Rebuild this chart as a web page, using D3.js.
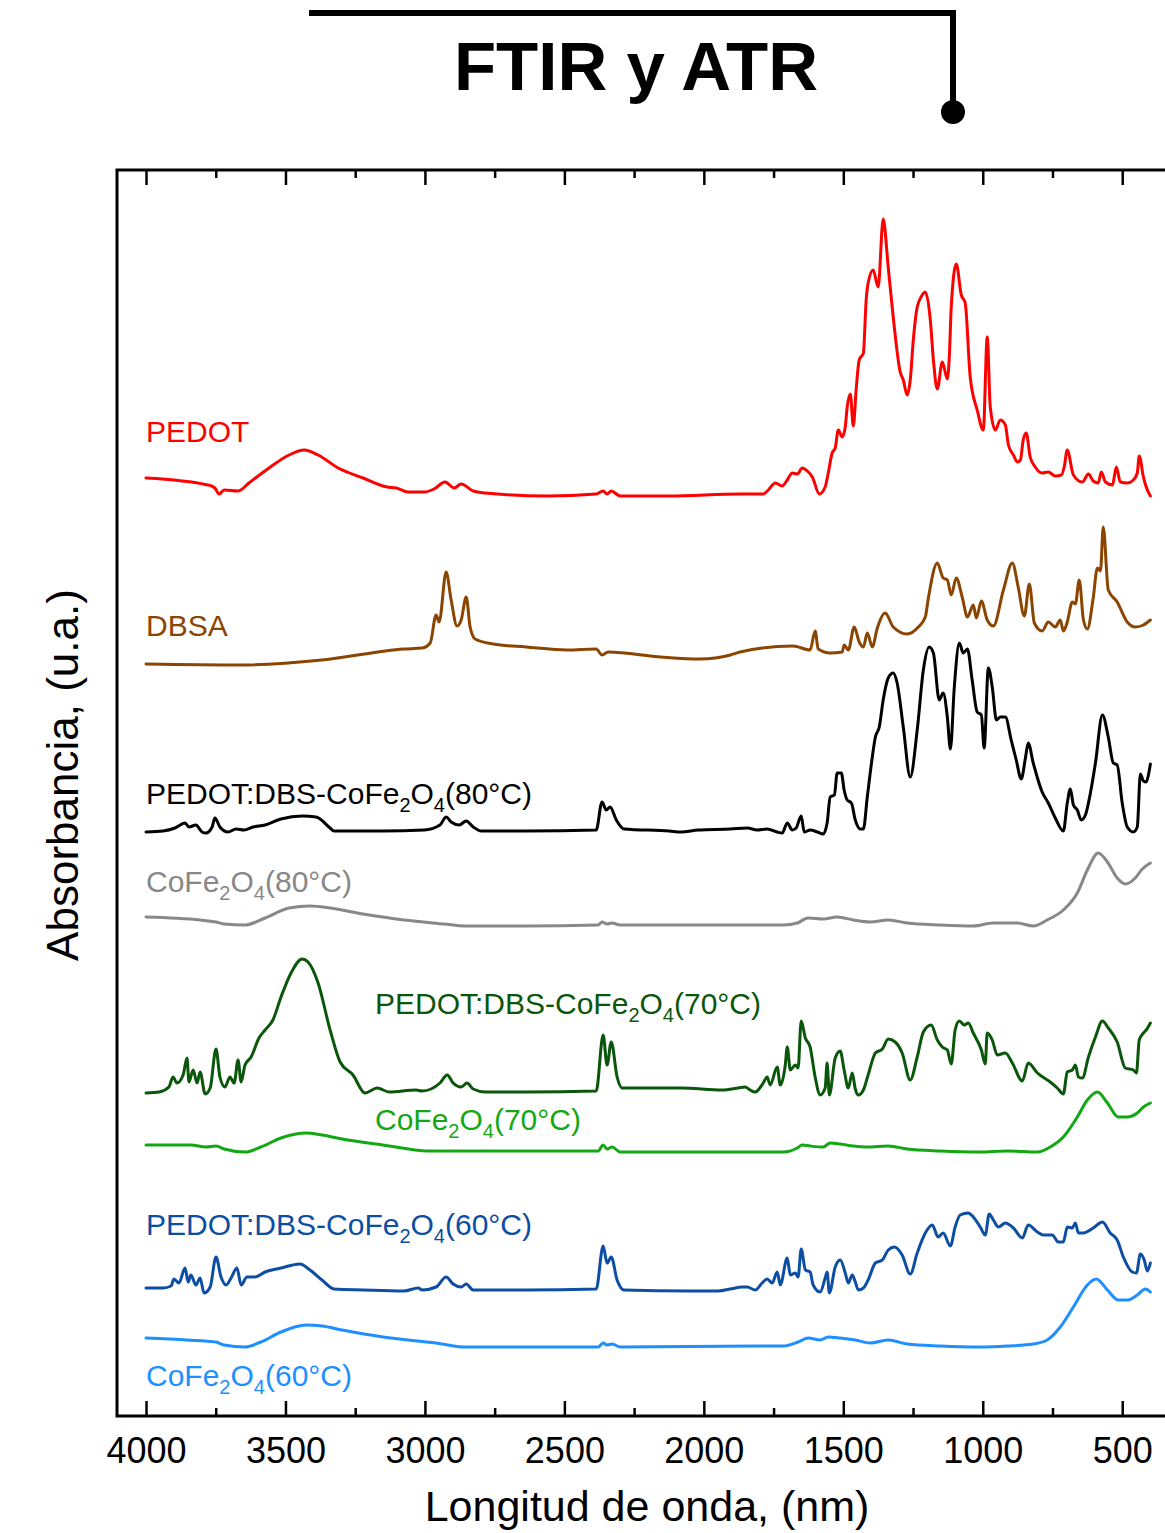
<!DOCTYPE html>
<meta charset="utf-8">
<head>
	<title>FTIR y ATR</title>
	<script type="text/javascript" src="https://d3js.org/d3.v7.min.js"></script>
	<style>
		body { margin: 0; background: #fff; }
		text { font-family: "Liberation Sans", Arial, sans-serif; }
		.tick line { stroke: #000; stroke-width: 2.5; }
		.tick text { font-size: 36px; fill: #000; }
		.spec { fill: none; stroke-width: 3; stroke-linejoin: round; stroke-linecap: round; }
	</style>
</head>
<body>
<div id="chart"></div>
<script>

// x axis ticks (cm-1, labelled nm in the original)
var majorTicks = [4000, 3500, 3000, 2500, 2000, 1500, 1000, 500];
var minorTicks = [3750, 3250, 2750, 2250, 1750, 1250, 750];

// spectra, [wavenumber, absorbance (u.a., offset)]
var pedot = [[4000,93.8],[3778,93.1],[3753,92.8],[3738,92.2],[3720,92.6],[3670,92.5],[3631,93.3],[3559,94.8],[3487,96.1],[3433,96.6],[3383,96.1],[3311,94.8],[3222,93.8],[3136,92.9],[3103,92.8],[3060,92.4],[3003,92.4],[2967,92.7],[2928,93.4],[2895,92.8],[2870,93.2],[2827,92.5],[2784,92.3],[2562,92.0],[2386,92.2],[2361,92.5],[2347,92.2],[2332,92.5],[2300,92.0],[2124,92.0],[1870,92.2],[1787,92.2],[1769,92.6],[1744,93.3],[1719,93.0],[1701,93.6],[1683,94.3],[1665,94.2],[1647,94.8],[1629,94.5],[1611,93.9],[1586,92.2],[1565,92.9],[1554,94.3],[1540,96.3],[1529,96.8],[1518,98.6],[1504,97.9],[1493,98.9],[1486,100.9],[1475,102.2],[1464,99.0],[1454,102.6],[1443,105.6],[1428,106.3],[1418,111.6],[1411,113.3],[1393,114.6],[1375,112.9],[1357,119.7],[1339,114.9],[1321,109.9],[1296,104.4],[1285,103.6],[1271,102.1],[1260,103.6],[1249,107.6],[1235,110.9],[1217,112.1],[1206,112.4],[1188,109.6],[1177,105.6],[1163,102.7],[1145,105.4],[1127,103.7],[1120,105.9],[1113,110.9],[1095,115.2],[1077,112.1],[1063,111.3],[1045,103.9],[1020,100.6],[998,98.6],[984,107.9],[973,100.9],[955,98.6],[937,99.6],[919,99.1],[908,97.1],[890,96.1],[876,95.4],[865,95.6],[855,97.6],[844,98.3],[830,95.9],[812,94.9],[787,94.3],[765,94.4],[740,94.0],[718,94.1],[708,94.9],[697,96.6],[675,94.1],[643,93.4],[621,94.2],[604,93.5],[586,93.3],[575,94.4],[560,93.4],[535,93.1],[521,94.9],[507,93.4],[482,93.3],[460,93.6],[446,94.3],[439,96.0],[424,93.9],[414,92.9],[399,92.0]];

var dbsa = [[4000,75.2],[3663,75.1],[3369,75.6],[3075,76.7],[3010,76.8],[2981,77.3],[2960,80.1],[2949,79.4],[2924,84.4],[2906,81.6],[2885,79.0],[2870,79.6],[2852,81.9],[2838,78.9],[2820,77.7],[2755,77.2],[2637,76.9],[2490,76.6],[2386,76.7],[2365,76.1],[2343,76.4],[2153,75.9],[2013,75.7],[1905,76.1],[1870,76.4],[1680,77.0],[1619,76.6],[1601,78.5],[1590,76.7],[1547,76.3],[1504,76.4],[1497,77.1],[1482,76.6],[1461,78.9],[1443,77.4],[1428,76.9],[1414,78.3],[1396,76.9],[1378,78.8],[1350,80.3],[1321,78.9],[1271,78.2],[1231,78.9],[1206,79.9],[1195,81.8],[1163,85.3],[1142,83.8],[1127,83.6],[1113,82.1],[1095,83.8],[1073,81.8],[1055,79.9],[1034,81.1],[1023,79.8],[1005,81.5],[984,79.6],[962,79.0],[926,82.6],[894,85.3],[873,82.9],[851,80.0],[833,83.2],[815,79.3],[787,78.5],[765,79.4],[740,78.9],[722,79.6],[711,78.5],[697,79.4],[679,81.4],[668,81.2],[654,83.6],[639,79.6],[625,78.7],[604,81.8],[589,84.8],[578,84.5],[568,88.9],[550,82.6],[518,81.4],[482,79.4],[453,78.9],[424,79.1],[399,79.6]];

var pds80 = [[4000,58.4],[3939,58.5],[3896,58.8],[3860,59.3],[3846,58.9],[3821,59.1],[3799,58.4],[3785,58.3],[3763,58.9],[3753,59.8],[3735,58.9],[3706,58.4],[3677,58.7],[3649,58.6],[3616,58.9],[3573,59.1],[3516,59.7],[3440,60.0],[3390,59.9],[3340,58.8],[3326,58.5],[3150,58.5],[3003,58.6],[2946,59.1],[2924,59.9],[2906,59.4],[2877,59.1],[2852,59.5],[2827,58.9],[2798,58.5],[2637,58.5],[2386,58.6],[2365,61.4],[2350,60.6],[2336,60.9],[2314,59.6],[2286,58.7],[2124,58.5],[2081,58.4],[2020,58.6],[1905,58.7],[1844,58.8],[1809,58.6],[1773,58.7],[1737,58.4],[1719,58.3],[1701,59.3],[1683,58.6],[1669,58.8],[1651,60.0],[1640,58.4],[1619,58.6],[1593,58.4],[1572,58.2],[1558,59.3],[1547,61.9],[1532,62.1],[1522,64.3],[1507,64.3],[1497,62.6],[1486,61.6],[1471,61.3],[1457,59.6],[1439,58.7],[1428,58.7],[1414,61.9],[1396,65.9],[1385,67.9],[1371,68.9],[1357,71.6],[1339,73.8],[1321,74.3],[1307,73.3],[1285,68.9],[1260,63.9],[1235,68.6],[1213,74.6],[1192,76.9],[1177,76.3],[1156,71.6],[1142,72.3],[1127,69.9],[1116,66.7],[1102,72.9],[1084,77.3],[1070,76.3],[1055,76.7],[1038,73.6],[1020,70.4],[1005,70.1],[995,66.8],[980,74.8],[966,72.9],[951,69.6],[937,69.9],[919,69.9],[898,67.6],[880,65.6],[862,63.7],[847,65.8],[837,67.3],[819,65.3],[787,62.4],[765,61.3],[740,59.8],[711,58.5],[697,61.3],[686,62.7],[675,61.1],[661,60.6],[647,59.6],[632,60.1],[614,62.3],[596,65.3],[571,70.1],[550,67.9],[532,65.3],[518,65.1],[500,61.3],[482,58.9],[460,58.4],[446,58.9],[435,64.2],[424,63.5],[414,63.4],[406,64.1],[399,65.2]];

var cofe80 = [[4000,49.9],[3806,49.6],[3749,49.4],[3720,49.2],[3645,49.1],[3573,49.8],[3487,50.8],[3412,51.0],[3340,50.8],[3222,50.2],[3075,49.6],[2931,49.2],[2856,49.0],[2637,49.0],[2379,49.1],[2365,49.4],[2347,49.2],[2329,49.3],[2300,49.1],[1805,49.1],[1715,49.1],[1665,49.3],[1626,49.8],[1572,49.7],[1522,49.9],[1464,49.6],[1403,49.4],[1339,49.6],[1271,49.3],[1152,49.1],[1034,49.0],[962,49.3],[876,49.3],[819,49.0],[769,49.6],[711,50.6],[661,52.3],[625,54.6],[586,56.3],[553,55.4],[518,53.8],[489,53.2],[453,53.8],[428,54.7],[399,55.3]];

var pds70 = [[4000,32.3],[3953,32.4],[3918,32.9],[3903,33.9],[3889,33.3],[3867,34.1],[3853,35.8],[3846,33.4],[3831,34.6],[3817,33.3],[3806,34.4],[3788,32.2],[3770,32.8],[3749,36.7],[3735,33.9],[3717,32.9],[3699,33.9],[3684,33.3],[3670,35.6],[3659,33.4],[3645,35.1],[3623,35.9],[3595,37.8],[3573,38.6],[3545,39.6],[3516,41.9],[3480,44.3],[3440,45.7],[3419,45.4],[3383,43.3],[3340,38.6],[3304,35.4],[3258,34.1],[3215,32.3],[3171,32.8],[3128,32.4],[3032,32.6],[3010,32.5],[2946,33.3],[2920,34.1],[2899,33.3],[2870,32.9],[2849,33.3],[2827,32.7],[2784,32.4],[2637,32.4],[2386,32.5],[2361,38.1],[2347,35.1],[2332,37.4],[2311,33.9],[2293,32.8],[2081,32.8],[1934,32.6],[1877,32.8],[1852,32.9],[1834,32.6],[1816,32.4],[1787,33.3],[1773,33.9],[1762,33.1],[1737,34.9],[1726,33.1],[1708,35.1],[1701,36.9],[1690,34.6],[1672,35.1],[1662,34.8],[1651,39.5],[1636,37.8],[1619,36.9],[1601,33.9],[1583,32.1],[1565,32.8],[1558,35.3],[1550,32.1],[1529,35.8],[1511,36.5],[1497,34.6],[1482,32.8],[1468,34.3],[1457,32.7],[1446,32.1],[1428,32.6],[1411,34.1],[1385,36.3],[1360,36.7],[1339,37.7],[1314,37.4],[1289,36.3],[1260,33.6],[1235,35.9],[1213,38.4],[1185,39.1],[1163,37.6],[1145,36.9],[1127,36.6],[1113,35.2],[1099,38.6],[1084,39.5],[1066,39.1],[1052,39.3],[1034,38.3],[1005,36.6],[991,35.2],[984,38.3],[966,37.6],[948,36.1],[919,36.3],[894,35.3],[858,33.5],[837,35.3],[804,34.3],[758,33.4],[733,32.8],[711,32.2],[697,34.4],[679,34.6],[668,35.1],[657,33.9],[643,33.8],[621,35.9],[596,37.9],[571,39.5],[550,38.8],[518,37.4],[489,34.8],[460,34.6],[449,34.3],[439,37.6],[424,38.3],[414,38.6],[399,39.3]];

var cofe70 = [[4000,27.1],[3839,27.1],[3785,26.9],[3749,27.0],[3720,26.7],[3645,26.4],[3588,26.9],[3516,27.8],[3426,28.3],[3369,28.1],[3297,27.7],[3150,27.1],[2989,26.5],[2637,26.5],[2379,26.5],[2361,27.1],[2347,26.7],[2329,26.9],[2300,26.4],[1805,26.4],[1715,26.4],[1665,26.8],[1647,27.1],[1619,27.0],[1572,26.9],[1547,27.3],[1511,27.2],[1464,27.0],[1414,26.9],[1339,27.0],[1271,26.7],[1152,26.5],[1009,26.4],[912,26.5],[804,26.4],[758,26.9],[711,27.9],[661,29.9],[625,31.6],[589,32.4],[553,31.3],[514,29.9],[482,29.9],[446,30.3],[424,30.9],[399,31.3]];

var pds60 = [[4000,12.8],[3939,12.8],[3910,13.0],[3900,13.7],[3882,13.3],[3860,14.8],[3849,13.4],[3839,14.1],[3821,13.1],[3806,13.8],[3792,12.3],[3770,12.9],[3749,15.9],[3731,13.9],[3713,13.1],[3695,13.8],[3674,14.8],[3659,13.1],[3638,13.9],[3609,13.9],[3573,14.4],[3516,14.8],[3448,15.2],[3412,14.6],[3369,13.6],[3326,12.7],[3222,12.6],[3075,12.5],[3024,12.8],[3010,12.6],[2960,12.9],[2924,13.9],[2899,13.2],[2870,12.9],[2852,13.2],[2827,12.6],[2637,12.6],[2386,12.7],[2361,17.0],[2347,15.3],[2332,15.9],[2311,13.6],[2286,12.6],[2053,12.5],[1948,12.5],[1905,12.7],[1862,12.9],[1844,12.9],[1816,12.6],[1791,13.3],[1773,13.7],[1755,13.3],[1737,14.4],[1726,13.1],[1701,15.8],[1690,14.1],[1672,14.3],[1662,13.9],[1651,16.7],[1636,14.6],[1619,14.4],[1608,13.1],[1583,12.4],[1565,13.8],[1558,14.4],[1550,12.3],[1529,14.9],[1511,15.6],[1493,14.3],[1482,13.3],[1468,14.1],[1457,13.4],[1446,12.6],[1428,12.8],[1411,13.6],[1385,15.3],[1360,15.6],[1339,16.6],[1317,16.9],[1289,16.1],[1260,14.2],[1235,16.3],[1206,18.3],[1181,19.1],[1160,17.9],[1142,18.3],[1116,17.0],[1099,18.9],[1081,20.1],[1052,20.3],[1034,19.9],[1009,18.9],[991,18.1],[977,20.2],[962,19.6],[944,18.9],[919,19.3],[890,18.8],[858,17.8],[837,19.1],[804,18.4],[783,18.1],[751,18.1],[729,17.4],[711,17.4],[697,18.9],[679,18.8],[668,19.3],[657,18.3],[639,18.3],[604,18.8],[571,19.4],[543,18.3],[518,17.6],[496,15.9],[464,14.4],[449,14.3],[435,16.2],[421,15.6],[410,14.5],[399,15.3]];

var cofe60 = [[4000,7.8],[3853,7.6],[3749,7.4],[3720,7.1],[3645,6.9],[3588,7.4],[3516,8.4],[3426,9.1],[3369,9.0],[3297,8.6],[3150,7.9],[2960,7.3],[2856,6.9],[2637,6.9],[2379,6.9],[2361,7.3],[2347,7.1],[2329,7.2],[2300,6.9],[1805,7.0],[1715,7.0],[1662,7.4],[1626,7.8],[1583,7.6],[1554,7.9],[1511,7.8],[1457,7.6],[1403,7.3],[1339,7.6],[1271,7.2],[1152,7.0],[1009,6.9],[912,7.0],[819,7.2],[769,7.6],[722,8.9],[675,10.9],[625,13.1],[593,13.7],[553,12.6],[514,11.6],[482,11.6],[446,12.1],[417,12.7],[399,12.4]];

// label text
var seriesNames = ["PEDOT", "DBSA", "PEDOT:DBS-CoFe2O4(80°C)", "CoFe2O4(80°C)",
                   "PEDOT:DBS-CoFe2O4(70°C)", "CoFe2O4(70°C)", "PEDOT:DBS-CoFe2O4(60°C)", "CoFe2O4(60°C)"];

		// dimensions
		var width = 1165, height = 1533;
		var margin = {left: 117, top: 170, right: 1178, bottom: 1416};

		var svg = d3.select("#chart").append("svg")
			.attr("width", width)
			.attr("height", height);

		var x = d3.scaleLinear().domain([4104, 300]).range([margin.left, margin.right]);
		var y = d3.scaleLinear().domain([0, 124.6]).range([margin.bottom, margin.top]);

		// style + label anchor for each spectrum (anchor in data units)
		var series = [
			{data: pedot,  name: seriesNames[0], color: "#ff0000", lx: 4000, ly: 97.4},
			{data: dbsa,   name: seriesNames[1], color: "#8b4500", lx: 4000, ly: 78.0},
			{data: pds80,  name: seriesNames[2], color: "#000000", lx: 4000, ly: 61.2},
			{data: cofe80, name: seriesNames[3], color: "#888888", lx: 4000, ly: 52.4},
			{data: pds70,  name: seriesNames[4], color: "#0a560a", lx: 3179, ly: 40.2},
			{data: cofe70, name: seriesNames[5], color: "#13a813", lx: 3179, ly: 28.6},
			{data: pds60,  name: seriesNames[6], color: "#0c4ea3", lx: 4000, ly: 18.1},
			{data: cofe60, name: seriesNames[7], color: "#1e8fff", lx: 4000, ly: 3.0}
		];

		// title with bracket
		svg.append("path")
			.attr("d", "M309,13H953V106")
			.attr("fill", "none")
			.attr("stroke", "#000")
			.attr("stroke-width", 6);
		svg.append("circle")
			.attr("cx", 953).attr("cy", 112).attr("r", 12)
			.attr("fill", "#000");
		svg.append("text")
			.attr("x", 636).attr("y", 90)
			.attr("text-anchor", "middle")
			.style("font-size", "69px")
			.style("font-weight", "bold")
			.text("FTIR y ATR");

		// axes, ticks pointing inward
		var gBottom = svg.append("g").attr("transform", "translate(0," + margin.bottom + ")");
		gBottom.call(d3.axisBottom(x).tickValues(majorTicks).tickSize(-15).tickPadding(21).tickFormat(d3.format("d")));
		gBottom.append("g").call(d3.axisBottom(x).tickValues(minorTicks).tickSize(-8).tickFormat(""));

		var gTop = svg.append("g").attr("transform", "translate(0," + margin.top + ")");
		gTop.call(d3.axisTop(x).tickValues(majorTicks).tickSize(-15).tickFormat(""));
		gTop.append("g").call(d3.axisTop(x).tickValues(minorTicks).tickSize(-8).tickFormat(""));

		svg.selectAll(".domain").remove();

		svg.append("rect")
			.attr("x", margin.left).attr("y", margin.top)
			.attr("width", margin.right - margin.left)
			.attr("height", margin.bottom - margin.top)
			.attr("fill", "none")
			.attr("stroke", "#000")
			.attr("stroke-width", 3);

		// spectra
		var line = d3.line()
			.curve(d3.curveMonotoneX)
			.x(function(d) { return x(d[0]); })
			.y(function(d) { return y(d[1]); });

		svg.selectAll(".spec")
			.data(series)
			.enter().append("path")
			.attr("class", "spec")
			.attr("stroke", function(d) { return d.color; })
			.attr("d", function(d) { return line(d.data); });

		// labels with subscripts for the 2 and 4 in CoFe2O4
		series.forEach(function(s) {
			var t = svg.append("text")
				.attr("x", x(s.lx)).attr("y", y(s.ly))
				.attr("fill", s.color)
				.style("font-size", "30px");
			var parts = s.name.split(/(Fe)2(O)4/);
			if (parts.length == 1) { t.text(s.name); return; }
			t.append("tspan").text(parts[0] + "Fe");
			t.append("tspan").attr("dy", 8).style("font-size", "20px").text("2");
			t.append("tspan").attr("dy", -8).text("O");
			t.append("tspan").attr("dy", 8).style("font-size", "20px").text("4");
			t.append("tspan").attr("dy", -8).text(parts[3]);
		});

		// axis titles
		svg.append("text")
			.attr("transform", "translate(78,775) rotate(-90)")
			.attr("text-anchor", "middle")
			.style("font-size", "44px")
			.text("Absorbancia, (u.a.)");
		svg.append("text")
			.attr("x", 647).attr("y", 1521)
			.attr("text-anchor", "middle")
			.style("font-size", "43px")
			.text("Longitud de onda, (nm)");

</script>
</body>
</html>
